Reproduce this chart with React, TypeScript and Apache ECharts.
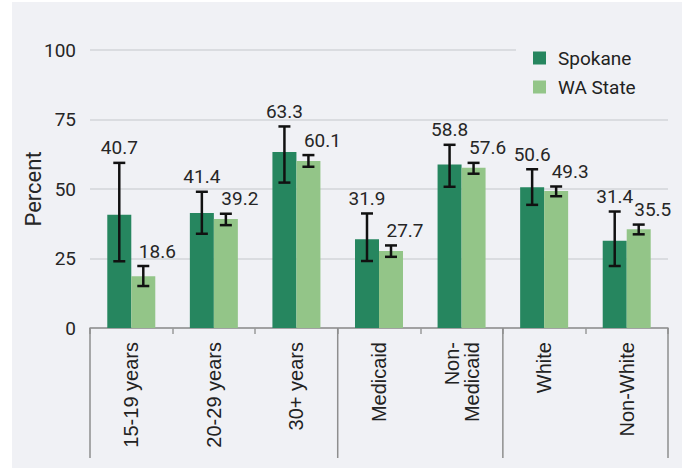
import React, { useEffect, useRef } from "react";
import * as echarts from "echarts";

const categories = ["15-19 years", "20-29 years", "30+ years", "Medicaid", "Non-Medicaid", "White", "Non-White"];
const seriesNames = ["Spokane", "WA State"];
const spokane = [40.7, 41.4, 63.3, 31.9, 58.8, 50.6, 31.4];
const waState = [18.6, 39.2, 60.1, 27.7, 57.6, 49.3, 35.5];
const spokaneLow = [24.0, 33.9, 52.3, 24.1, 50.8, 44.3, 22.3];
const spokaneHigh = [59.4, 49.0, 72.5, 41.2, 65.9, 57.1, 41.9];
const waLow = [15.1, 37.0, 58.0, 25.6, 55.5, 47.4, 33.7];
const waHigh = [22.3, 41.1, 62.2, 29.7, 59.4, 50.9, 37.2];
const yMin = 0;
const yMax = 100;
const yStep = 25;
const groupBreaks = [0, 3, 5, 7];

const DARK = "#26865f";
const LIGHT = "#93c588";
const BG = "#f0f1f5";
const BAR_W = 24;
const NUM_FONT = "Roboto";
const CAT_FONT = "Liberation Sans";

function errorSeries(name: string, vals: number[], low: number[], high: number[], side: number, labelDx: number) {
  return {
    type: "custom",
    name: name + " CI",
    z: 5,
    clip: false,
    data: vals.map((v, i) => [i, low[i], high[i], v]),
    encode: { x: 0, y: [1, 2] },
    renderItem: (params: any, api: any) => {
      const i = api.value(0);
      const top = api.coord([i, api.value(2)]);
      const bot = api.coord([i, api.value(1)]);
      const x = top[0] + (side * BAR_W) / 2;
      const cap = 6;
      const st = { stroke: "#111", lineWidth: 2.5 };
      return {
        type: "group",
        children: [
          { type: "line", shape: { x1: x, y1: top[1], x2: x, y2: bot[1] }, style: st },
          { type: "line", shape: { x1: x - cap, y1: top[1], x2: x + cap, y2: top[1] }, style: st },
          { type: "line", shape: { x1: x - cap, y1: bot[1], x2: x + cap, y2: bot[1] }, style: st },
          {
            type: "text",
            x: x + labelDx,
            y: top[1] - 15,
            style: {
              text: String(api.value(3)),
              fontSize: 19,
              fontFamily: NUM_FONT,
              fill: "#262626",
              align: "center",
              verticalAlign: "middle",
              textAlign: "center",
              textVerticalAlign: "middle",
            },
          },
        ],
      };
    },
  };
}

export default function App() {
  const ref = useRef<HTMLDivElement>(null);
  useEffect(() => {
    if (!ref.current) return;
    const chart = echarts.init(ref.current, null, { renderer: "svg" });
    chart.setOption({
      animation: false,
      backgroundColor: BG,
      grid: { left: 78, right: 14, top: 48, bottom: 140, containLabel: false, outerBoundsMode: "none" },
      legend: {
        data: seriesNames,
        orient: "vertical",
        left: 504,
        top: 40,
        padding: [5, 40, 8, 17],
        backgroundColor: BG,
        itemWidth: 13,
        itemHeight: 13,
        itemGap: 7,
        icon: "rect",
        textStyle: { fontSize: 19, fontFamily: NUM_FONT, color: "#222", lineHeight: 22, padding: [0, 0, 0, 7] },
      },
      xAxis: {
        type: "category",
        data: categories,
        axisLine: { lineStyle: { color: "#8e8e8e", width: 1.5 } },
        axisTick: { show: true, length: 6, interval: 0, lineStyle: { color: "#9a9a9a", width: 1.5 } },
        axisLabel: {
          rotate: 90,
          interval: 0,
          margin: 14,
          fontSize: 20,
          fontFamily: CAT_FONT,
          color: "#222",
          lineHeight: 20,
          formatter: (v: string) => (v === "Non-Medicaid" ? "Non-\nMedicaid" : v),
        },
      },
      yAxis: {
        type: "value",
        min: yMin,
        max: yMax,
        interval: yStep,
        name: "Percent",
        nameLocation: "middle",
        nameGap: 46,
        nameMoveOverlap: false,
        nameTextStyle: { fontSize: 22, fontFamily: NUM_FONT, color: "#262626" },
        axisLine: { show: false },
        axisTick: { show: false },
        axisLabel: { fontSize: 19, fontFamily: NUM_FONT, color: "#262626", margin: 14 },
        splitLine: { lineStyle: { color: "#d3d4d8", width: 1.5 } },
      },
      series: [
        { type: "bar", name: seriesNames[0], data: spokane, barWidth: BAR_W, barGap: "0%", itemStyle: { color: DARK } },
        { type: "bar", name: seriesNames[1], data: waState, barWidth: BAR_W, barGap: "0%", itemStyle: { color: LIGHT } },
        errorSeries(seriesNames[0], spokane, spokaneLow, spokaneHigh, -1, 0),
        errorSeries(seriesNames[1], waState, waLow, waHigh, 1, 14),
        {
          type: "custom",
          name: "groups",
          z: 4,
          clip: false,
          data: groupBreaks.map((b) => [0, 0, b]),
          encode: { x: 0, y: 1 },
          renderItem: (params: any, api: any) => {
            const p0 = api.coord([0, 0]);
            const bw = api.size([1, 0])[0];
            const x = p0[0] - bw / 2 + api.value(2) * bw;
            return {
              type: "line",
              shape: { x1: x, y1: p0[1], x2: x, y2: p0[1] + 130 },
              style: { stroke: "#8e8e8e", lineWidth: 1.5 },
            };
          },
        },
      ],
    });
    return () => chart.dispose();
  }, []);
  return (
    <div
      ref={ref}
      style={{ position: "absolute", left: 12, top: 2, width: 670, height: 466 }}
    />
  );
}
